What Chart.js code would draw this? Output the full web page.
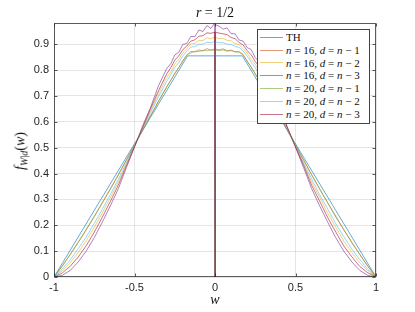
<!DOCTYPE html>
<html>
<head>
<meta charset="utf-8">
<script src="https://cdn.jsdelivr.net/npm/chart.js@4.4.1/dist/chart.umd.min.js"></script>
<style>
  html, body { margin: 0; padding: 0; background: #fff; }
  #wrap { position: relative; width: 415px; height: 312px; overflow: hidden; }
  #chart { position: absolute; left: 0; top: 0; }
  .tex { font-family: "Liberation Serif", "Times New Roman", serif; color: #111; position: absolute; white-space: nowrap; }
  #title { font-size: 14px; left: 0; width: 430px; top: 5px; text-align: center; }
  #xlabel { font-size: 14px; left: 0; width: 430px; top: 292px; text-align: center; }
  #ylabel { font-size: 14px; left: 21px; top: 151px; transform: translate(-50%, -50%) rotate(-90deg); }
  #ylabel sub { font-size: 10px; vertical-align: -3px; }
  #legend { left: 257px; top: 29px; width: 111px; background: #fff; border: 1px solid #444; padding: 1px 0 2px 0; font-size: 11px; }
  .lg-row { display: flex; align-items: center; height: 12.8px; line-height: 12.8px; }
  .lg-line { width: 23px; height: 0; margin: 0 3px 0 2px; border-top: 1px solid; }
</style>
</head>
<body>
<div id="wrap">
  <canvas id="chart" width="415" height="312"></canvas>
  <div id="title" class="tex"><i>r</i> = 1/2</div>
  <div id="xlabel" class="tex"><i>w</i></div>
  <div id="ylabel" class="tex"><i>f</i><sub><i>W</i>|<i>d</i></sub>(<i>w</i>)</div>
  <div id="legend" class="tex"></div>
</div>
<script>
// ── Data ────────────────────────────────────────────────
const xTicks = [-1, -0.5, 0, 0.5, 1];
const xTickLabels = ["-1", "-0.5", "0", "0.5", "1"];
const yTicks = [0, 0.1, 0.2, 0.3, 0.4, 0.5, 0.6, 0.7, 0.8, 0.9];
const yTickLabels = ["0", "0.1", "0.2", "0.3", "0.4", "0.5", "0.6", "0.7", "0.8", "0.9"];

// theoretical curve (trapezoid)
const thW = [-1, -0.17, 0.17, 1];
const thF = [0, 0.855, 0.855, 0];

// sample grid of the empirical curves
const wGrid = [
  -1, -0.95, -0.9, -0.85, -0.8, -0.75, -0.7, -0.65, -0.6, -0.55, -0.5, -0.45, -0.4, -0.35,
  -0.3, -0.275, -0.25, -0.225, -0.2, -0.175, -0.15, -0.125, -0.1, -0.075, -0.05, -0.025, -0.002,
  0,
  0.002, 0.025, 0.05, 0.075, 0.1, 0.125, 0.15, 0.175, 0.2, 0.225, 0.25, 0.275, 0.3,
  0.35, 0.4, 0.45, 0.5, 0.55, 0.6, 0.65, 0.7, 0.75, 0.8, 0.85, 0.9, 0.95, 1
];

const fN16d1 = [
  0, 0.041, 0.086, 0.133, 0.182, 0.233, 0.286, 0.340, 0.395, 0.453, 0.510, 0.567, 0.624, 0.681,
  0.736, 0.760, 0.788, 0.809, 0.837, 0.857, 0.872, 0.870, 0.878, 0.874, 0.883, 0.876, 0.882,
  0,
  0.881, 0.878, 0.882, 0.875, 0.877, 0.871, 0.871, 0.860, 0.834, 0.812, 0.785, 0.762, 0.734,
  0.680, 0.625, 0.566, 0.511, 0.452, 0.396, 0.339, 0.287, 0.232, 0.183, 0.132, 0.087, 0.040, 0
];
const fN16d2 = [
  0, 0.023, 0.055, 0.094, 0.140, 0.192, 0.248, 0.307, 0.368, 0.437, 0.506, 0.574, 0.643, 0.709,
  0.771, 0.793, 0.823, 0.841, 0.867, 0.882, 0.901, 0.903, 0.915, 0.914, 0.925, 0.921, 0.928,
  0,
  0.926, 0.922, 0.923, 0.915, 0.913, 0.902, 0.899, 0.882, 0.866, 0.841, 0.822, 0.793, 0.768,
  0.710, 0.642, 0.575, 0.505, 0.438, 0.367, 0.308, 0.247, 0.193, 0.139, 0.095, 0.054, 0.024, 0
];
const fN16d3 = [
  0, 0.006, 0.025, 0.058, 0.100, 0.152, 0.212, 0.275, 0.342, 0.423, 0.502, 0.584, 0.656, 0.741,
  0.806, 0.824, 0.858, 0.869, 0.899, 0.903, 0.930, 0.929, 0.955, 0.949, 0.972, 0.961, 0.982,
  0,
  0.976, 0.970, 0.958, 0.963, 0.941, 0.940, 0.916, 0.912, 0.887, 0.879, 0.848, 0.832, 0.797,
  0.731, 0.664, 0.577, 0.502, 0.423, 0.342, 0.275, 0.212, 0.152, 0.100, 0.058, 0.025, 0.006, 0
];
const fN20d1 = [
  0, 0.042, 0.087, 0.134, 0.184, 0.235, 0.288, 0.341, 0.396, 0.453, 0.510, 0.566, 0.623, 0.680,
  0.733, 0.760, 0.784, 0.811, 0.833, 0.859, 0.866, 0.873, 0.871, 0.877, 0.874, 0.879, 0.876,
  0,
  0.878, 0.875, 0.878, 0.873, 0.875, 0.870, 0.869, 0.857, 0.835, 0.809, 0.786, 0.758, 0.735,
  0.681, 0.622, 0.567, 0.509, 0.454, 0.395, 0.342, 0.287, 0.236, 0.183, 0.135, 0.086, 0.043, 0
];
const fN20d2 = [
  0, 0.030, 0.066, 0.109, 0.155, 0.207, 0.262, 0.319, 0.378, 0.443, 0.507, 0.571, 0.636, 0.698,
  0.757, 0.781, 0.810, 0.829, 0.855, 0.873, 0.889, 0.891, 0.900, 0.900, 0.908, 0.905, 0.911,
  0,
  0.909, 0.906, 0.906, 0.900, 0.899, 0.891, 0.888, 0.874, 0.854, 0.830, 0.809, 0.781, 0.755,
  0.697, 0.637, 0.570, 0.508, 0.442, 0.379, 0.318, 0.263, 0.206, 0.156, 0.108, 0.067, 0.029, 0
];
const fN20d3 = [
  0, 0.015, 0.041, 0.077, 0.121, 0.173, 0.231, 0.292, 0.356, 0.431, 0.504, 0.577, 0.651, 0.721,
  0.785, 0.809, 0.838, 0.855, 0.879, 0.893, 0.912, 0.917, 0.931, 0.933, 0.944, 0.942, 0.947,
  0,
  0.946, 0.943, 0.940, 0.937, 0.926, 0.921, 0.907, 0.897, 0.875, 0.859, 0.833, 0.813, 0.781,
  0.722, 0.650, 0.578, 0.503, 0.432, 0.355, 0.293, 0.230, 0.174, 0.120, 0.078, 0.040, 0.016, 0
];

const seriesN = [16, 16, 16, 20, 20, 20];
const seriesDOff = [1, 2, 3, 1, 2, 3];
const seriesF = [fN16d1, fN16d2, fN16d3, fN20d1, fN20d2, fN20d3];
const seriesColors = [
  "rgba(217,83,25,0.6)",
  "rgba(237,177,32,0.6)",
  "rgba(126,47,142,0.6)",
  "rgba(119,172,48,0.6)",
  "rgba(77,190,238,0.6)",
  "rgba(162,20,47,0.6)"
];
const thColor = "rgba(0,114,189,0.6)";

(function () {
  "use strict";

  const axisColor = "#262626";
  const tickFont = { family: "'Liberation Sans', Arial, sans-serif", size: 11 };

  // ── Datasets ──────────────────────────────────────────
  const datasets = [
    {
      label: "TH",
      data: thW.map((w, i) => ({ x: w, y: thF[i] })),
      borderColor: thColor,
      order: 6
    }
  ];
  seriesF.forEach((f, s) => {
    datasets.push({
      label: "n = " + seriesN[s] + ", d = n − " + seriesDOff[s],
      data: wGrid.map((w, i) => ({ x: w, y: f[i] })),
      borderColor: seriesColors[s],
      order: 5 - s
    });
  });

  // ── Box + inward tick marks (MATLAB style) ────────────
  const boxPlugin = {
    id: "box",
    afterDraw(chart) {
      const { ctx, chartArea: a, scales } = chart;
      const l = Math.round(a.left) + 0.5, r = Math.round(a.right) - 0.5;
      const t = Math.round(a.top) + 0.5, b = Math.round(a.bottom) - 0.5;
      ctx.save();
      ctx.strokeStyle = axisColor;
      ctx.lineWidth = 1;
      ctx.globalAlpha = 0.75;
      ctx.strokeRect(l, t, r - l, b - t);
      ctx.beginPath();
      xTicks.forEach((v) => {
        const x = Math.round(scales.x.getPixelForValue(v)) + 0.5;
        ctx.moveTo(x, b); ctx.lineTo(x, b - 3);
        ctx.moveTo(x, t); ctx.lineTo(x, t + 3);
      });
      yTicks.forEach((v) => {
        const y = Math.round(scales.y.getPixelForValue(v)) + 0.5;
        ctx.moveTo(l, y); ctx.lineTo(l + 3, y);
        ctx.moveTo(r, y); ctx.lineTo(r - 3, y);
      });
      ctx.stroke();
      ctx.restore();
    }
  };

  // ── Chart ─────────────────────────────────────────────
  new Chart(document.getElementById("chart"), {
    type: "line",
    data: { datasets },
    options: {
      responsive: false,
      animation: false,
      layout: { padding: { top: 23, right: 39, left: 0, bottom: 0 } },
      plugins: { legend: { display: false }, tooltip: { enabled: false } },
      elements: {
        point: { radius: 0 },
        line: { tension: 0, borderWidth: 1 }
      },
      scales: {
        x: {
          type: "linear",
          min: -1,
          max: 1,
          afterBuildTicks: (s) => { s.ticks = xTicks.map((v) => ({ value: v })); },
          afterFit: (s) => { s.height = 35; },
          grid: { color: "rgba(38,38,38,0.12)", drawTicks: false },
          border: { display: false },
          ticks: {
            callback: (v, i) => xTickLabels[i],
            font: tickFont,
            color: axisColor,
            padding: 4,
            maxRotation: 0
          }
        },
        y: {
          min: 0,
          max: 0.982,
          afterBuildTicks: (s) => { s.ticks = yTicks.map((v) => ({ value: v })); },
          afterFit: (s) => { s.width = 54; },
          grid: { color: "rgba(38,38,38,0.12)", drawTicks: false },
          border: { display: false },
          ticks: {
            callback: (v, i) => yTickLabels[i],
            font: tickFont,
            color: axisColor,
            padding: 5
          }
        }
      }
    },
    plugins: [boxPlugin]
  });

  // ── Legend (inside the axes, upper right) ─────────────
  const legend = document.getElementById("legend");
  const rows = [{ html: "TH", color: thColor }].concat(
    seriesN.map((n, s) => ({
      html: "<i>n</i> = " + n + ", <i>d</i> = <i>n</i> − " + seriesDOff[s],
      color: seriesColors[s]
    }))
  );
  legend.innerHTML = rows
    .map((r) => `<div class="lg-row"><span class="lg-line" style="border-color:${r.color}"></span><span>${r.html}</span></div>`)
    .join("");
})();
</script>
</body>
</html>
